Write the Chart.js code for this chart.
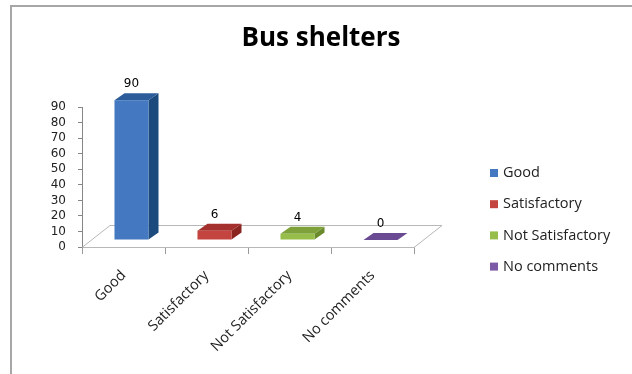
<!DOCTYPE html>
<html>
<head>
<meta charset="utf-8">
<script src="https://cdn.jsdelivr.net/npm/chart.js@4/dist/chart.umd.min.js"></script>
<style>
  body { margin: 0; background: #fff; }
  #wrap { width: 632px; height: 374px; }
</style>
</head>
<body>
<div id="wrap"><canvas id="myChart" width="632" height="374"></canvas></div>
<script>
// data
const categories = ['Good', 'Satisfactory', 'Not Satisfactory', 'No comments']
const responses = [90, 6, 4, 0]
const yMax = 90
const yStep = 10

// face colours of each bar (front, right side, top)
const frontColors = ['#4478c0', '#c4443f', '#97bd4a', '#7c5aa6']
const sideColors = ['#1d4a7c', '#8a2522', '#6b8a2c', '#55387a']
const topColors = ['#2c5d9a', '#a3302c', '#7ea13a', '#6a4a93']

// 3d geometry
const floorDX = 28, floorDY = -22   // depth of the floor
const liftDX = 8, liftDY = -7       // bars stand a little behind the front edge
const barDX = 10, barDY = -7        // depth of each bar

const textFamily = '"Open Sans"'
const labelFont = '14.5px ' + textFamily
const numberFont = '12px "DejaVu Sans"'

const frame = {
  id: 'frame',
  beforeDraw: (chart) => {
    const { ctx } = chart
    ctx.save()
    ctx.fillStyle = '#fff'
    ctx.fillRect(0, 0, chart.width, chart.height)
    ctx.fillStyle = '#a6a6a6'
    ctx.fillRect(10, 5, chart.width - 10, 2)
    ctx.fillRect(10, 5, 2, chart.height - 5)
    ctx.restore()
  }
}

const bars3d = {
  id: 'bars3d',
  beforeDatasetsDraw: (chart) => {
    // floor of the plot
    const { ctx } = chart
    const { left, right, bottom } = chart.chartArea
    ctx.save()
    ctx.strokeStyle = '#b8b8b8'
    ctx.lineWidth = 1
    ctx.beginPath()
    ctx.moveTo(left, bottom + 0.5)
    ctx.lineTo(left + floorDX, bottom + floorDY + 0.5)
    ctx.lineTo(right + floorDX, bottom + floorDY + 0.5)
    ctx.lineTo(right, bottom + 0.5)
    ctx.stroke()
    ctx.restore()
  },
  beforeDatasetDraw: () => false,
  afterDatasetsDraw: (chart) => {
    const { ctx } = chart
    const meta = chart.getDatasetMeta(0)
    ctx.save()
    meta.data.forEach((bar, i) => {
      const { x, y, base, width } = bar.getProps(['x', 'y', 'base', 'width'], true)
      const l = x - width / 2 + liftDX
      const r = x + width / 2 + liftDX
      const t = y + liftDY
      const b = base + liftDY

      // right side
      ctx.fillStyle = sideColors[i]
      ctx.beginPath()
      ctx.moveTo(r, t)
      ctx.lineTo(r + barDX, t + barDY)
      ctx.lineTo(r + barDX, b + barDY)
      ctx.lineTo(r, b)
      ctx.closePath()
      ctx.fill()

      // top
      ctx.fillStyle = topColors[i]
      ctx.beginPath()
      ctx.moveTo(l, t)
      ctx.lineTo(l + barDX, t + barDY)
      ctx.lineTo(r + barDX, t + barDY)
      ctx.lineTo(r, t)
      ctx.closePath()
      ctx.fill()

      // front
      ctx.fillStyle = frontColors[i]
      ctx.fillRect(l, t, r - l, b - t)

      // value label
      ctx.fillStyle = '#000'
      ctx.font = numberFont
      ctx.textAlign = 'center'
      ctx.textBaseline = 'middle'
      ctx.fillText(String(responses[i]), x + liftDX, t + barDY - 9)
    })
    ctx.restore()
  }
}

const sideLegend = {
  id: 'sideLegend',
  afterDraw: (chart) => {
    const { ctx } = chart
    ctx.save()
    ctx.font = labelFont
    ctx.textBaseline = 'middle'
    ctx.textAlign = 'left'
    categories.forEach((name, i) => {
      const rowY = 173 + i * 31.2
      ctx.fillStyle = frontColors[i]
      ctx.fillRect(490, rowY - 4, 8, 8)
      ctx.fillStyle = '#222'
      ctx.fillText(name, 503, rowY)
    })
    ctx.restore()
  }
}

const ctx = document.querySelector('#myChart').getContext('2d')

const config = {
  type: 'bar',
  data: {
    labels: categories,
    datasets: [{
      data: responses,
      backgroundColor: frontColors,
      barPercentage: 0.41,
      categoryPercentage: 1
    }]
  },
  plugins: [frame, bars3d, sideLegend],
  options: {
    responsive: false,
    animation: false,
    layout: { padding: { left: 10, right: 0, top: 0, bottom: 0 } },
    scales: {
      x: {
        afterFit: (scale) => { scale.height = 127 },
        grid: { drawOnChartArea: false, tickLength: 7, color: '#9a9a9a', offset: true },
        border: { color: '#b8b8b8' },
        ticks: {
          minRotation: 45,
          maxRotation: 45,
          autoSkip: false,
          padding: 13,
          color: '#222',
          font: { family: textFamily, size: 14.5 }
        }
      },
      y: {
        min: 0,
        max: yMax,
        afterFit: (scale) => { scale.width = 72 },
        grid: { drawOnChartArea: false, tickLength: 4, color: '#868686' },
        border: { color: '#868686' },
        ticks: {
          stepSize: yStep,
          autoSkip: false,
          padding: 12,
          color: '#222',
          font: { family: 'DejaVu Sans', size: 12 }
        }
      },
      // empty axis that keeps room for the legend on the right
      legendSpace: {
        type: 'linear',
        position: 'right',
        afterFit: (scale) => { scale.width = 218 },
        grid: { display: false },
        border: { display: false },
        ticks: { display: false }
      }
    },
    plugins: {
      legend: { display: false },
      tooltip: { enabled: false },
      title: {
        display: true,
        text: 'Bus shelters',
        color: '#000',
        font: { family: textFamily, size: 26, weight: 'bold', lineHeight: 1.2 },
        padding: { top: 23, bottom: 53 }
      }
    }
  }
}

const myChart = new Chart(ctx, config)
</script>
</body>
</html>
